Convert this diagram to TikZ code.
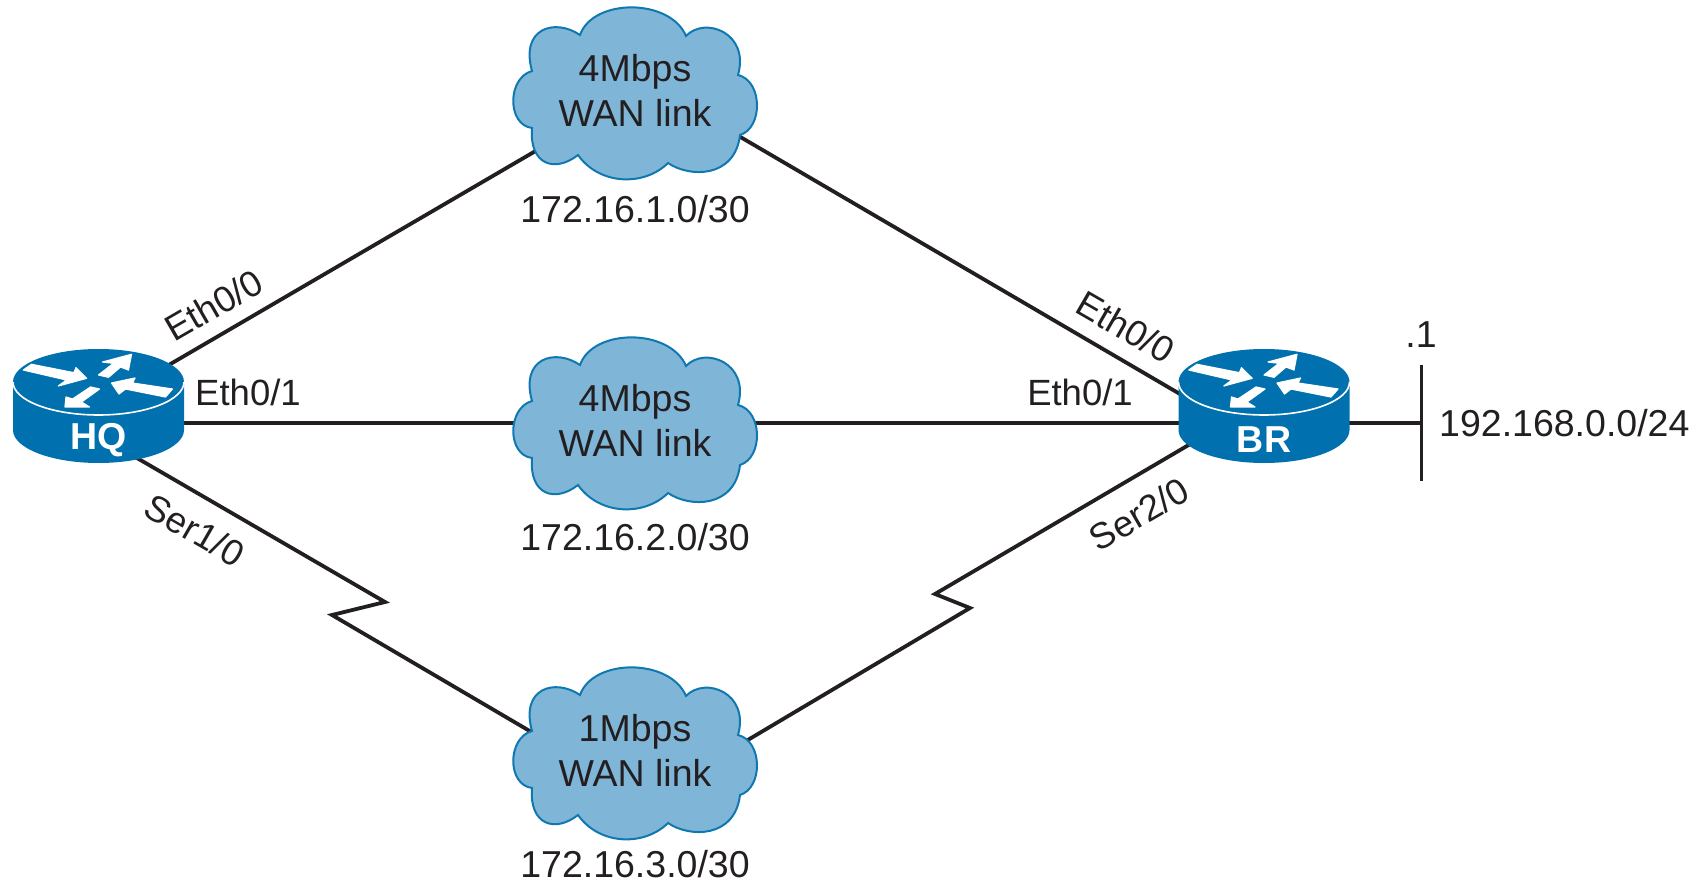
\documentclass[tikz,border=0pt]{standalone}
\usepackage{fontspec}
\setmainfont{Liberation Sans}
\usetikzlibrary{shapes.geometric,backgrounds}
\definecolor{ink}{HTML}{231F20}
\definecolor{routerblue}{HTML}{0071AE}
\definecolor{cloudfill}{HTML}{7FB6D7}
\definecolor{cloudedge}{HTML}{0F78B0}
\tikzset{
  lbl/.style={font=\fontsize{37.5}{45}\selectfont,text=ink,inner sep=0pt,align=center},
  portlbl/.style={font=\fontsize{36.5}{44}\selectfont,text=ink,inner sep=0pt},
  rname/.style={font=\fontsize{37.5}{45}\selectfont\bfseries,text=white,inner sep=0pt},
  link/.style={draw=ink,line width=3.8pt,line join=miter},
  cloudhold/.style={ellipse,minimum width=200pt,minimum height=140pt,inner sep=0pt,outer sep=0pt},
  routerhold/.style={ellipse,minimum width=171pt,minimum height=114pt,inner sep=0pt,outer sep=0pt},
  arrowshape/.style={fill=white,draw=white,line width=1.2pt,line join=round},
}
\newcommand{\cloudshape}[2]{%
  \begin{scope}[shift={(#1,#2)}]
    \path[fill=cloudfill,draw=cloudedge,line width=2pt]
      (-55,-58) .. controls (-42,-95) and (35,-95) .. (51,-57)
      .. controls (70,-77) and (115,-60) .. (103,-18)
      .. controls (128,-12) and (128,35) .. (105,42)
      .. controls (100,85) and (55,85) .. (33,70)
      .. controls (10,93) and (-35,93) .. (-57,62)
      .. controls (-80,80) and (-106,72) .. (-103,35)
      .. controls (-128,32) and (-128,-15) .. (-103,-22)
      .. controls (-115,-65) and (-80,-75) .. cycle;
  \end{scope}}
\newcommand{\routershape}[2]{%
  \begin{scope}[shift={(#1,#2)}]
    \fill[routerblue] (-85.5,0) arc[start angle=180,end angle=0,x radius=85.5pt,y radius=33pt]
      -- (85.5,48) arc[start angle=360,end angle=180,x radius=85.5pt,y radius=33pt] -- cycle;
    \draw[white,line width=1.6pt] (-85.5,0) arc[start angle=180,end angle=360,x radius=85.5pt,y radius=33pt];
    \path[arrowshape] (-75.2,-12) -- (-67,-17.7) -- (-24.5,-9.3) -- (-22.5,-14.3) -- (-11.8,-3.7) -- (-40.2,4) -- (-32,-2) -- cycle;
    \path[arrowshape] (0,-7) -- (15,-18.7) -- (4,-20) -- (33,-27.7) -- (30,-12) -- (22,-15) -- (10,-4.7) -- cycle;
    \path[arrowshape] (13,1) -- (36.5,-4) -- (34,1) -- (74,7) -- (67,15) -- (27,7) -- (20.5,12) -- cycle;
    \path[arrowshape] (-33.5,25) -- (-32.5,15) -- (-26,17) -- (-8,5) -- (1,7) -- (-17,20) -- (-9,25) -- cycle;
  \end{scope}}
\begin{document}
\begin{tikzpicture}[x=1pt,y=-1pt]
  \useasboundingbox (0,0) rectangle (1708,882);
  % shapes
  \cloudshape{635}{93}
  \cloudshape{635}{423}
  \cloudshape{635}{753}
  \routershape{98.5}{382}
  \routershape{1264}{382}
  % holder nodes for connector ends
  \node[cloudhold] (c1) at (635,93) {};
  \node[cloudhold] (c2) at (635,423) {};
  \node[cloudhold] (c3) at (635,753) {};
  \node[routerhold] (hq) at (98.5,406) {};
  \node[routerhold] (br) at (1264,406) {};
  \coordinate (ltop) at (1421.5,365);
  \coordinate (lbot) at (1421.5,481);
  \coordinate (lmid) at (1421.5,423);
  \coordinate (zl1) at (385,602);
  \coordinate (zl2) at (332,615);
  \coordinate (zr1) at (970,608);
  \coordinate (zr2) at (935,594);
  % connectors
  \begin{scope}[on background layer]
    \draw[link] (hq) -- (c1);
    \draw[link] (c1.-21.5) -- (br.172);
    \draw[link] (hq.-11.8 |- c2.west) -- (c2.west);
    \draw[link] (c2.east) -- (br.191.8 |- c2.east);
    \draw[link] (hq.-54.3) -- (zl1) -- (zl2) -- (c3.170.1);
    \draw[link] (c3.3.6) -- (zr1) -- (zr2) -- (br.207.6);
    \draw[link] (br.-11.8 |- lmid) -- (lmid);
    \draw[link] (ltop) -- (lbot);
  \end{scope}
  % texts
  \node[rname] (hqt) at (98.5,440) {HQ};
  \node[rname] (brt) at (1264,440) {BR};
  \node[lbl] (c1t) at (635,90) {4Mbps\\WAN link};
  \node[lbl] (c2t) at (635,420) {4Mbps\\WAN link};
  \node[lbl] (c3t) at (635,750) {1Mbps\\WAN link};
  \node[lbl] (n1) at (635,209) {172.16.1.0/30};
  \node[lbl] (n2) at (635,537) {172.16.2.0/30};
  \node[lbl] (n3) at (635,864) {172.16.3.0/30};
  \node[portlbl,rotate=30] (l1) at (214,305) {Eth0/0};
  \node[portlbl] (l2) at (248,392) {Eth0/1};
  \node[portlbl,rotate=-30] (l3) at (195,530) {Ser1/0};
  \node[portlbl,rotate=-30] (l4) at (1126,327) {Eth0/0};
  \node[portlbl] (l5) at (1080,392) {Eth0/1};
  \node[portlbl,rotate=30] (l6) at (1139,514) {Ser2/0};
  \node[lbl] (dot1) at (1421,335) {.1};
  \node[lbl,anchor=west] (lan) at (1439,423) {192.168.0.0/24};
\end{tikzpicture}
\end{document}
